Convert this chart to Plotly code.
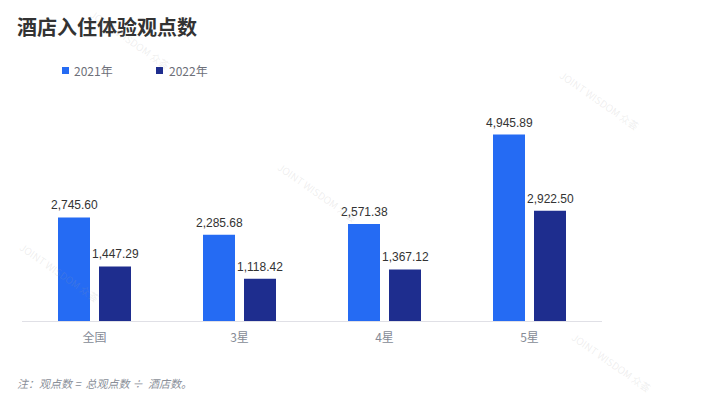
import plotly.graph_objects as go

# Data
categories = ["全国", "3星", "4星", "5星"]
values_2021 = [2745.60, 2285.68, 2571.38, 4945.89]
values_2022 = [1447.29, 1118.42, 1367.12, 2922.50]
series_names = ["2021年", "2022年"]
series_colors = ["#256bf3", "#1e2d8e"]

title_text = "酒店入住体验观点数"
note_text = "注：观点数 =  总观点数 ÷  酒店数。"
watermark_text = "JOINT WISDOM 众荟"

W, H = 708, 404
M_L, M_R, M_T, M_B = 22, 106, 94, 83
PW = W - M_L - M_R
PH = H - M_T - M_B

BAR_W_PX = 32        # drawn width of one bar
BAR_SEP_PX = 9       # space between the two bars of a group
CAT_PX = PW / len(categories)
SLOT_PX = BAR_W_PX + BAR_SEP_PX
BARGAP = 1 - 2 * SLOT_PX / CAT_PX
GROUPGAP = BAR_SEP_PX / SLOT_PX


def px_x(px):
    return (px - M_L) / PW


def px_y(py):
    return (H - M_B - py) / PH


FONT = "Liberation Sans, Arial, Noto Sans CJK SC, sans-serif"
CJK = "Noto Sans CJK SC, Liberation Sans, sans-serif"

fig = go.Figure()
annotations = []
series = [values_2021, values_2022]
for i, (name, vals, color) in enumerate(zip(series_names, series, series_colors)):
    fig.add_trace(go.Bar(
        x=categories, y=vals, name=name,
        marker=dict(color=color, line=dict(width=0)),
        hoverinfo="skip",
    ))
    # value labels above each bar
    shift = (i - 0.5) * SLOT_PX
    for c, v in zip(categories, vals):
        annotations.append(dict(
            text=f"{v:,.2f}", xref="x", yref="y", x=c, y=v,
            xshift=shift, yshift=3, xanchor="center", yanchor="bottom",
            showarrow=False,
            font=dict(family=FONT, size=12, color="#333333")))

shapes = []

# Legend drawn as small squares with labels
legend_pos = [(62, 72), (156, 167)]
for (sx, tx), name, color in zip(legend_pos, series_names, series_colors):
    shapes.append(dict(type="rect", xref="paper", yref="paper",
                       x0=px_x(sx), x1=px_x(sx + 7), y0=px_y(74), y1=px_y(67),
                       fillcolor=color, line=dict(width=0)))
    annotations.append(dict(text=name, xref="paper", yref="paper",
                            x=px_x(tx), y=px_y(70.5), xanchor="left", yanchor="middle",
                            showarrow=False,
                            font=dict(family=CJK, size=12, color="#6e7079")))

# Footnote
annotations.append(dict(text=note_text, xref="paper", yref="paper",
                        x=px_x(15), y=px_y(383), xanchor="left", yanchor="middle",
                        showarrow=False,
                        font=dict(family=CJK, size=11, color="#8a8f99", style="italic")))

# Faint brand watermarks
for cx, cy in [(130, 40), (318, 192), (60, 272), (600, 100), (612, 362)]:
    annotations.append(dict(text=watermark_text, xref="paper", yref="paper",
                            x=px_x(cx), y=px_y(cy), xanchor="center", yanchor="middle",
                            textangle=35, showarrow=False,
                            font=dict(family=CJK, size=10, color="rgba(160,160,160,0.18)")))

fig.update_layout(
    width=W, height=H,
    margin=dict(l=M_L, r=M_R, t=M_T, b=M_B),
    paper_bgcolor="white", plot_bgcolor="white",
    showlegend=False,
    barmode="group", bargap=BARGAP, bargroupgap=GROUPGAP,
    title=dict(text="<b>" + title_text + "</b>", x=17 / W, xanchor="left",
               y=1 - 28 / H, yanchor="middle",
               font=dict(family=CJK, size=20, color="#333333")),
    xaxis=dict(showgrid=False, showline=True, linecolor="#e0e0e6", linewidth=1,
               ticks="", ticklabelstandoff=6,
               tickfont=dict(family=CJK, size=12, color="#868b96"),
               fixedrange=True),
    yaxis=dict(range=[0, 6020], visible=False, showgrid=False, zeroline=False,
               fixedrange=True),
    shapes=shapes, annotations=annotations,
)

fig.write_html("out.html")
